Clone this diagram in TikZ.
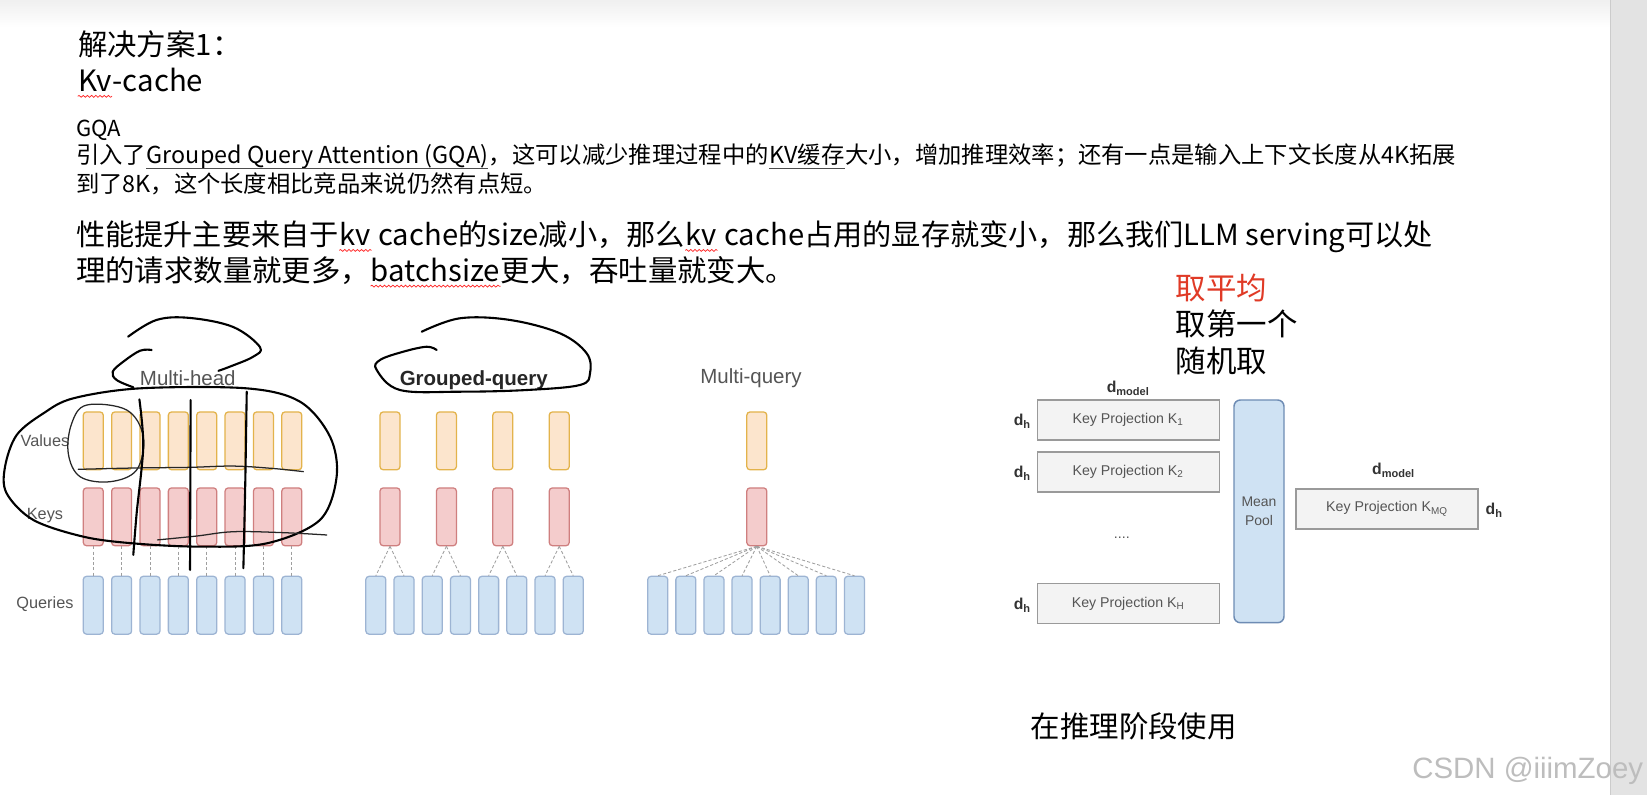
\documentclass[tikz,border=0pt]{standalone}
\usepackage{fontspec}
\setmainfont{Noto Sans CJK SC}
\newfontfamily\arialf{Liberation Sans}
\usetikzlibrary{decorations.pathmorphing}
\definecolor{valfill}{HTML}{FCE5CD}
\definecolor{valdraw}{HTML}{E3B34B}
\definecolor{keyfill}{HTML}{F4CCCC}
\definecolor{keydraw}{HTML}{CF7F7F}
\definecolor{qfill}{HTML}{CFE2F3}
\definecolor{qdraw}{HTML}{9DB4D3}
\definecolor{lblgray}{HTML}{555555}
\definecolor{projfill}{HTML}{F3F3F3}
\definecolor{projdraw}{HTML}{9A9A9A}
\definecolor{pooldraw}{HTML}{6E8CB4}
\definecolor{redtxt}{HTML}{E03A26}
\definecolor{scrollcol}{HTML}{E3E3E3}
\definecolor{wmcol}{HTML}{BDBDBD}
\begin{document}
\begin{tikzpicture}[x=0.5pt,y=-0.5pt,
  txt/.style={inner sep=0pt, anchor=base west, text=black},
  big/.style={txt, font=\fontsize{14pt}{16pt}\selectfont},
  bigb/.style={txt, font=\fontsize{13.9pt}{16pt}\selectfont},
  small/.style={txt, font=\fontsize{11.1pt}{13pt}\selectfont},
  wavy/.style={draw=red!85, line width=0.35pt, decorate, decoration={snake, amplitude=0.45pt, segment length=2pt}},
  uline/.style={draw=black!70, line width=0.45pt},
  toplbl/.style={font=\arialf\fontsize{9.75pt}{11pt}\selectfont, text=lblgray, inner sep=0pt},
  sidelbl/.style={font=\arialf\fontsize{7.75pt}{9pt}\selectfont, text=lblgray, inner sep=0pt},
  bar/.style={rectangle, rounded corners=1.5pt, minimum width=9.5pt, minimum height=27.5pt, inner sep=0pt, line width=0.6pt},
  val/.style={bar, fill=valfill, draw=valdraw},
  keyb/.style={bar, fill=keyfill, draw=keydraw},
  qry/.style={bar, fill=qfill, draw=qdraw},
  link/.style={draw=gray!75, dash pattern=on 1.5pt off 1pt, line width=0.4pt},
  proj/.style={rectangle, fill=projfill, draw=projdraw, line width=0.7pt, minimum width=86.7pt, minimum height=19pt, inner sep=0pt, font=\arialf\fontsize{6.75pt}{8pt}\selectfont, text=lblgray},
  poolbox/.style={rectangle, rounded corners=3pt, fill=qfill, draw=pooldraw, line width=0.7pt, minimum width=23.8pt, minimum height=106pt, inner sep=0pt, align=center, font=\arialf\fontsize{6.65pt}{8.7pt}\selectfont, text=lblgray},
  dimlbl/.style={font=\arialf\bfseries\fontsize{7.5pt}{9pt}\selectfont, text=black!80, inner sep=0pt},
  hand/.style={draw=black, line width=1pt, line cap=round, line join=round},
  thinhand/.style={draw=black!85, line width=0.6pt, line cap=round, line join=round}
]
\useasboundingbox (0,0) rectangle (1568,757);
\fill[white] (0,0) rectangle (1568,757);
\shade[top color=black!6, bottom color=white] (0,0) rectangle (1533,26);
\fill[scrollcol] (1533,0) rectangle (1568,757);
\draw[black!20, line width=0.5pt] (1533,0) -- (1533,757);

% ---- text block ----
\node[big] (t1) at (74,52.5) {解决方案1：};
\node[big] (t2a) at (74,87.3) {Kv};
\node[big] (t2b) at (t2a.base east) {-cache};
\draw[wavy] ([yshift=-2.2pt]t2a.base west) -- ([yshift=-2.2pt]t2a.base east);
\node[txt, font=\fontsize{10.5pt}{12pt}\selectfont] (t3) at (72,130) {GQA};
\node[small] (t4a) at (72,155.5) {引入了};
\node[small] (t4b) at (t4a.base east) {Grouped Query Attention (GQA)};
\node[small] (t4c) at (t4b.base east) {，这可以减少推理过程中的};
\node[small] (t4d) at (t4c.base east) {KV缓存};
\node[small] (t4e) at (t4d.base east) {大小，增加推理效率；还有一点是输入上下文长度从4K拓展};
\draw[uline] ([yshift=-2.4pt]t4b.base west) -- ([yshift=-2.4pt]t4b.base east);
\draw[uline] ([yshift=-2.4pt]t4d.base west) -- ([yshift=-2.4pt]t4d.base east);
\node[small] (t5) at (72,183) {到了8K，这个长度相比竞品来说仍然有点短。};
\node[bigb] (t6a) at (72,234) {性能提升主要来自于};
\node[bigb] (t6b) at (t6a.base east) {kv};
\node[bigb] (t6c) at (t6b.base east) {\ cache的size减小，那么};
\node[bigb] (t6d) at (t6c.base east) {kv};
\node[bigb] (t6e) at (t6d.base east) {\ cache占用的显存就变小，那么我们LLM serving可以处};
\draw[wavy] ([yshift=-2.2pt]t6b.base west) -- ([yshift=-2.2pt]t6b.base east);
\draw[wavy] ([yshift=-2.2pt]t6d.base west) -- ([yshift=-2.2pt]t6d.base east);
\node[big] (t7a) at (72,268) {理的请求数量就更多，};
\node[big] (t7b) at (t7a.base east) {batchsize};
\node[big] (t7c) at (t7b.base east) {更大，吞吐量就变大。};
\draw[wavy] ([yshift=-2.2pt]t7b.base west) -- ([yshift=-2.2pt]t7b.base east);

\node[txt, font=\fontsize{14.5pt}{17pt}\selectfont, text=redtxt] (r1) at (1119,285) {取平均};
\node[txt, font=\fontsize{14.5pt}{17pt}\selectfont] (r2) at (1119,319.5) {取第一个};
\node[txt, font=\fontsize{14.5pt}{17pt}\selectfont] (r3) at (1119,354.5) {随机取};
\node[big] (use) at (981,702) {在推理阶段使用};

% ---- attention diagram ----
\node[toplbl] (mhl) at (178.8,360) {Multi-head};
\node[toplbl, font=\arialf\bfseries\fontsize{9.75pt}{11pt}\selectfont, text=black!85] (gql) at (451,362) {Grouped-query};
\node[toplbl] (mql) at (715,360) {Multi-query};

\node[sidelbl] (lv) at (42.8,419.8) {Values};
\node[sidelbl] (lk) at (42.8,491.2) {Keys};
\node[sidelbl] (lq) at (42.8,575) {Queries};

\foreach \i in {0,...,7} {
  \node[val]  (mhv\i) at ({88.8+27*\i},419.7) {};
  \node[keyb] (mhk\i) at ({88.8+27*\i},492) {};
  \node[qry]  (mhq\i) at ({88.8+27*\i},576.2) {};
  \draw[link] (mhk\i.south) -- (mhq\i.north);
}
\foreach \j in {0,...,3} {
  \node[val]  (gv\j) at ({371.3+53.7*\j},419.7) {};
  \node[keyb] (gk\j) at ({371.3+53.7*\j},492) {};
}
\foreach \i in {0,...,7} {
  \node[qry] (gq\i) at ({357.8+26.85*\i},576.2) {};
}
\foreach \j in {0,...,3} {
  \pgfmathtruncatemacro\qa{2*\j}
  \pgfmathtruncatemacro\qb{2*\j+1}
  \draw[link] (gk\j.south) -- (gq\qa.north);
  \draw[link] (gk\j.south) -- (gq\qb.north);
}
\node[val]  (mv) at (720.5,419.7) {};
\node[keyb] (mk) at (720.5,492) {};
\foreach \i in {0,...,7} {
  \node[qry] (mq\i) at ({626.2+26.75*\i},576.2) {};
  \draw[link] (mk.south) -- (mq\i.north);
}

% ---- key projection diagram ----
\node[dimlbl] (dm1) at (1074.2,369.8) {d\textsubscript{model}};
\node[proj] (k1) at (1074.2,399.9) {Key Projection K\textsubscript{1}};
\node[proj] (k2) at (1074.2,449.4) {Key Projection K\textsubscript{2}};
\node[proj] (kh) at (1074.2,574.7) {Key Projection K\textsubscript{H}};
\node[font=\arialf\fontsize{6.75pt}{8pt}\selectfont, text=lblgray, inner sep=0pt] (dots) at (1068,512) {....};
\node[dimlbl] (dh1) at (973.5,401.4) {d\textsubscript{h}};
\node[dimlbl] (dh2) at (973.5,450.6) {d\textsubscript{h}};
\node[dimlbl] (dh3) at (973.5,576) {d\textsubscript{h}};
\node[poolbox] (pool) at (1198.6,486.8) {Mean\\Pool};
\node[dimlbl] (dm2) at (1326.9,448.2) {d\textsubscript{model}};
\node[proj] (kmq) at (1320.6,484.4) {Key Projection K\textsubscript{MQ}};
\node[dimlbl, anchor=west] (dh4) at (1414,486) {d\textsubscript{h}};

% ---- handwriting ----
\draw[hand] plot[smooth, tension=0.6] coordinates {(122,320.5) (149,304.6) (181,302.7) (222,311.3) (247.5,330.4) (241,339.6) (219,349) (208,353)};
\draw[hand] plot[smooth, tension=0.6] coordinates {(144.4,333.2) (133.3,333.9) (117.4,344.3) (107.3,353.9) (111.1,361.8) (126.9,368.7)};
\draw[hand] plot[smooth cycle, tension=0.55] coordinates {(69.8,379.2) (133.3,369.7) (234.9,369.7) (285.6,382.4) (314.2,415.7) (320.5,453.8) (304.6,495) (253.9,517.3) (190.4,520.4) (126.9,517.3) (79.3,510.9) (31.7,495) (6.3,469.6) (4.8,444.3) (15.9,414.1) (41.3,393.5)};
\draw[thinhand] plot[smooth cycle, tension=0.6] coordinates {(82.5,385.6) (120.6,390.3) (136.4,415.7) (130.1,447.4) (104.7,458.6) (76.2,453.8) (65,431.6) (68.3,403)};
\draw[thinhand] plot[smooth, tension=0.6] coordinates {(74.5,446.8) (130,445.5) (180.9,444.9) (222,443.7) (260,446) (288.8,449)};
\draw[thinhand] plot[smooth, tension=0.6] coordinates {(150,514) (187.3,510.3) (222.1,506.2) (269.7,507.1) (311,509.3)};
\draw[hand] plot[smooth, tension=0.5] coordinates {(132.7,380.2) (136.4,425.2) (130.1,488.6) (126.9,528.3)};
\draw[hand] plot[smooth, tension=0.5] coordinates {(181.5,380.8) (181.2,460) (180.9,542.6)};
\draw[hand] plot[smooth, tension=0.5] coordinates {(234.9,372.9) (233.5,460) (231.7,541)};
\draw[hand] plot[smooth, tension=0.6] coordinates {(401.5,315.8) (437.9,303) (485.5,304.6) (533.1,317.3) (558.5,336.3) (561.7,355.4) (552.2,366.5) (501.4,371.3) (437.9,372.9) (380.8,371.3) (358.6,352.2) (361.8,342.7) (384,334.8) (406.2,330.1) (415.7,333.2)};

% ---- watermark ----
\node[anchor=base east, inner sep=0pt, font=\arialf\fontsize{14pt}{16pt}\selectfont, text=wmcol] (wm) at (1564.7,741) {CSDN @iiimZoey};
\end{tikzpicture}
\end{document}
